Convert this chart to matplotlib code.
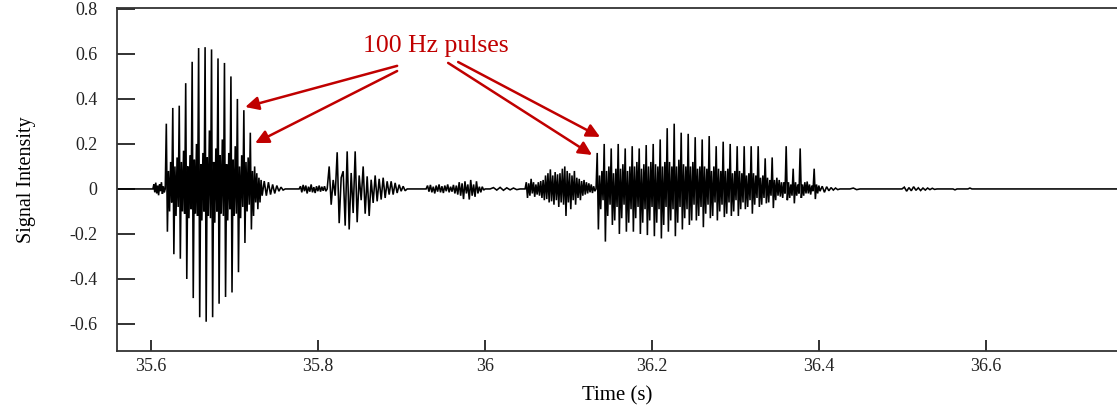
import numpy as np
import matplotlib
matplotlib.use("Agg")
import matplotlib.pyplot as plt

plt.rcParams['font.family'] = ['Liberation Serif', 'DejaVu Serif']

# ---------------- data ----------------
record_start, record_end = 35.559, 36.757

# each segment: (t_start, t_end, successive extrema of the waveform)
blip_a = (35.6020, 35.6168, [0, 0.02, -0.015, 0.028, -0.02, 0.015, -0.028, 0.02, -0.01, 0.03, -0.022, 0.012, -0.015, 0])

burst_a = (35.6168, 35.7329, [0,
    0.29, -0.19, 0.08, -0.10, 0.12, -0.06,
    0.36, -0.29, 0.10, -0.12, 0.14, -0.08,
    0.37, -0.31, 0.12, -0.10, 0.17, -0.11,
    0.47, -0.40, 0.10, -0.13, 0.15, -0.09,
    0.565, -0.485, 0.13, -0.11, 0.20, -0.12,
    0.626, -0.57, 0.11, -0.14, 0.16, -0.10,
    0.63, -0.59, 0.14, -0.12, 0.26, -0.13,
    0.62, -0.57, 0.12, -0.15, 0.18, -0.10,
    0.58, -0.51, 0.15, -0.11, 0.22, -0.12,
    0.56, -0.48, 0.11, -0.14, 0.16, -0.09,
    0.50, -0.46, 0.13, -0.12, 0.19, -0.11,
    0.40, -0.37, 0.10, -0.13, 0.15, -0.08,
    0.35, -0.24, 0.12, -0.10, 0.14, -0.07,
    0.25, -0.18, 0.08, -0.12, 0.10, -0.06,
    0.07, -0.09, 0.05, -0.06, 0.04, -0.03])

tail_a = (35.7329, 35.7605, [-0.03, 0.035, -0.03, 0.03, -0.025, 0.02, -0.02, 0.015, -0.01, 0.008, -0.005, 0])

noise_b = (35.7772, 35.8108, [0, 0.012, -0.015, 0.018, -0.01, 0.015, -0.02, 0.01, -0.012, 0.02, -0.015,
                              0.008, -0.018, 0.012, -0.01, 0.015, -0.012, 0.01, -0.008, 0.012, -0.01, 0])

burst_b = (35.8108, 35.9066, [0, 0.10, -0.07, 0.04, -0.03, 0.163, -0.152, 0.05, 0.079, -0.163, 0.167, -0.18,
                              0.071, -0.107, 0.167, -0.148, 0.06, -0.05, 0.10, -0.11, 0.056, -0.12, 0.041,
                              -0.062, 0.06, -0.055, 0.045, -0.047, 0.05, -0.04, 0.034, -0.025, 0.034, -0.025,
                              0.027, -0.018, 0.019, -0.01, 0.012, -0.008, 0])

burst_c = (35.9293, 36.0000, [0, 0.015, -0.012, 0.018, -0.015, 0.01, -0.02, 0.015, -0.012, 0.02, -0.015, 0.012,
                              -0.018, 0.015, -0.01, 0.02, -0.015, 0.01, -0.012, 0.018, -0.02, 0.015, -0.025,
                              0.03, -0.03, 0.025, -0.045, 0.034, -0.02, 0.02, -0.047, 0.04, -0.03, 0.02,
                              -0.035, 0.034, -0.02, 0.01, -0.015, 0.01, -0.005, 0])

wiggle_c = (36.0060, 36.0419, [0, 0.006, -0.005, 0.007, -0.006, 0.005, -0.004, 0.004, -0.003, 0])

burst_d = (36.0479, 36.1329, [0, 0.03, -0.04, 0.025, -0.03, 0.045, -0.02, 0.03, -0.035, 0.02, -0.025, 0.03,
                              -0.03, 0.035, -0.04, 0.04, -0.05, 0.06, -0.045, 0.07, -0.06, 0.087, -0.055,
                              0.06, -0.07, 0.075, -0.05, 0.065, -0.08, 0.07, -0.06, 0.09, -0.07, 0.1, -0.12,
                              0.08, -0.06, 0.07, -0.09, 0.06, -0.05, 0.08, -0.07, 0.05, -0.04, 0.045, -0.05,
                              0.035, -0.03, 0.04, -0.025, 0.03, -0.02, 0.025, -0.015, 0.02, -0.018, 0.012,
                              -0.01, 0])

burst_e = (36.1329, 36.4012, [0,
    0.16, -0.18, 0.06, -0.09, 0.08, -0.05,
    0.20, -0.234, 0.08, -0.12, 0.10, -0.07,
    0.18, -0.16, 0.07, -0.14, 0.09, -0.08,
    0.20, -0.20, 0.09, -0.13, 0.11, -0.07,
    0.18, -0.19, 0.08, -0.15, 0.10, -0.09,
    0.19, -0.19, 0.10, -0.13, 0.12, -0.08,
    0.18, -0.20, 0.09, -0.15, 0.11, -0.09,
    0.195, -0.205, 0.10, -0.14, 0.12, -0.08,
    0.20, -0.21, 0.11, -0.15, 0.10, -0.09,
    0.22, -0.22, 0.10, -0.16, 0.12, -0.08,
    0.27, -0.19, 0.12, -0.14, 0.10, -0.09,
    0.29, -0.21, 0.10, -0.15, 0.13, -0.08,
    0.25, -0.18, 0.11, -0.13, 0.10, -0.09,
    0.245, -0.16, 0.10, -0.14, 0.12, -0.07,
    0.23, -0.14, 0.09, -0.12, 0.10, -0.08,
    0.22, -0.17, 0.10, -0.11, 0.09, -0.07,
    0.235, -0.13, 0.08, -0.12, 0.10, -0.06,
    0.19, -0.14, 0.09, -0.10, 0.08, -0.07,
    0.21, -0.125, 0.08, -0.11, 0.09, -0.06,
    0.20, -0.12, 0.07, -0.10, 0.08, -0.05,
    0.19, -0.12, 0.08, -0.09, 0.07, -0.06,
    0.19, -0.09, 0.06, -0.08, 0.07, -0.05,
    0.19, -0.11, 0.07, -0.07, 0.06, -0.04,
    0.19, -0.08, 0.05, -0.07, 0.06, -0.04,
    0.136, -0.064, 0.05, -0.06, 0.04, -0.03,
    0.14, -0.085, 0.04, -0.05, 0.05, -0.03,
    0.04, -0.034, 0.03, -0.04, 0.03, -0.02,
    0.19, -0.05, 0.03, -0.04, 0.02, -0.03,
    0.09, -0.064, 0.03, -0.03, 0.02, -0.02,
    0.18, -0.04, 0.02, -0.03, 0.03, -0.02,
    0.033, -0.02, 0.02, -0.025, 0.015, -0.01,
    0.09, -0.045, 0.02, -0.02, 0.015, -0.01])

tail_e = (36.4012, 36.4251, [-0.01, 0.012, -0.015, 0.01, -0.008, 0.006, -0.005, 0.004, -0.003, 0])

late_1 = (36.4371, 36.4491, [0, 0.004, -0.003, 0])
late_2 = (36.4994, 36.5413, [0, 0.008, -0.01, 0.006, -0.008, 0.01, -0.006, 0.005, -0.007, 0.004, -0.005,
                             0.004, -0.003, 0.003, -0.002, 0])
late_3 = (36.5605, 36.5653, [0, -0.004, 0])
late_4 = (36.5784, 36.5832, [0, 0.004, 0])

segments = [blip_a, burst_a, tail_a, noise_b, burst_b, burst_c, wiggle_c, burst_d,
            burst_e, tail_e, late_1, late_2, late_3, late_4]

x_ticks = [35.6, 35.8, 36.0, 36.2, 36.4, 36.6]
x_ticklabels = ['35.6', '35.8', '36', '36.2', '36.4', '36.6']
y_ticks = [-0.6, -0.4, -0.2, 0, 0.2, 0.4, 0.6, 0.8]
y_ticklabels = ['-0.6', '-0.4', '-0.2', '0', '0.2', '0.4', '0.6', '0.8']

note_text = '100 Hz pulses'
note_pos = (35.9413, 0.636)
arrows = [((35.8946, 0.547), (35.7126, 0.364)),
          ((35.8946, 0.524), (35.7245, 0.204)),
          ((35.9557, 0.560), (36.1281, 0.151)),
          ((35.9677, 0.564), (36.1377, 0.231))]

# ---------------- build the waveform ----------------
t_all = [np.array([record_start])]
v_all = [np.array([0.0])]
for t0, t1, vals in segments:
    t_all.append(np.linspace(t0, t1, len(vals)))
    v_all.append(np.asarray(vals, dtype=float))
t_all.append(np.array([record_end]))
v_all.append(np.array([0.0]))
t = np.concatenate(t_all)
v = np.concatenate(v_all)

# ---------------- plot ----------------
fig = plt.figure(figsize=(11.17, 4.07), dpi=100)
ax = fig.add_axes([117 / 1117, 1 - 351 / 407, 1 - 117 / 1117, (351 - 8) / 407])

ax.plot(t, v, color='black', lw=1.15, solid_joinstyle='miter')

ax.set_xlim(record_start, record_end)
ax.set_ylim(-0.72, 0.804)

ax.set_xticks(x_ticks)
ax.set_xticklabels(x_ticklabels)
ax.set_yticks(y_ticks)
ax.set_yticklabels(y_ticklabels)

ax.tick_params(axis='x', direction='in', length=8, width=1.3, labelsize=13, pad=5, colors='#222222')
ax.tick_params(axis='y', direction='in', length=13, width=1.3, labelsize=13, pad=14, colors='#222222')
for lbl in ax.get_yticklabels():
    lbl.set_va('center_baseline')

for side in ['left', 'bottom', 'top']:
    ax.spines[side].set_linewidth(1.3)
    ax.spines[side].set_color('#333333')
ax.spines['right'].set_visible(False)

ax.set_xlabel('Time (s)', fontsize=15, labelpad=8)
ax.set_ylabel('Signal Intensity', fontsize=14.5, labelpad=24)

red = '#C00000'
ax.text(note_pos[0], note_pos[1], note_text, color=red, fontsize=18.5, ha='center', va='center')
for start, end in arrows:
    ax.annotate('', xy=end, xytext=start,
                arrowprops=dict(arrowstyle='-|>', color=red, lw=1.8, mutation_scale=20,
                                shrinkA=0, shrinkB=0))

fig.savefig('out.png', dpi=100)
